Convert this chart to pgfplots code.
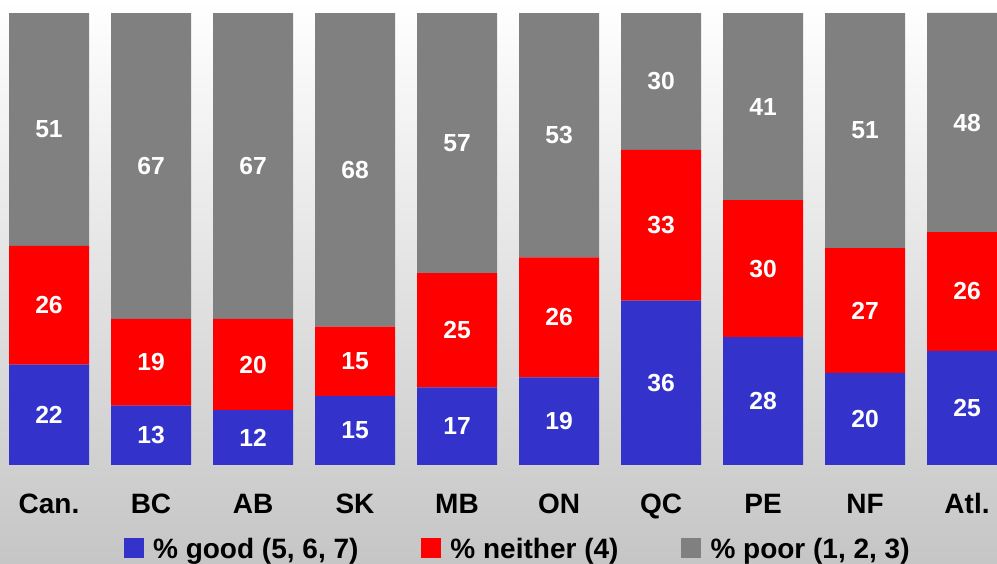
\documentclass[border=0pt]{standalone}
\usepackage{pgfplots}
\pgfplotsset{compat=1.18}
\usepackage{pgfplotstable}
\usepackage{fontspec}
\setmainfont{Liberation Sans}
\definecolor{cblue}{HTML}{3333CC}
\definecolor{cred}{HTML}{FF0000}
\definecolor{cgray}{HTML}{808080}
\pgfplotstableread{
x good neither poor
0 22 26 51
1 13 19 67
2 12 20 67
3 15 15 68
4 17 25 57
5 19 26 53
6 36 33 30
7 28 30 41
8 20 27 51
9 25 26 48
}\data
\begin{document}
\begin{tikzpicture}
\path[use as bounding box] (0,0) rectangle (747.75pt,423pt);
\shade[top color=white, bottom color=gray!45] (0,0) rectangle (747.75pt,423pt);
\begin{axis}[
  at={(0,74.25pt)}, anchor=south west,
  scale only axis, width=747.75pt, height=339pt,
  ybar stacked, bar width=60pt,
  xmin=-0.4804, xmax=9.294, ymin=0, ymax=100,
  axis line style={draw=none}, tick style={draw=none},
  ytick=\empty,
  xtick={0,...,9},
  xticklabels={Can.,BC,AB,SK,MB,ON,QC,PE,NF,Atl.},
  xticklabel style={anchor=base, yshift=-36.75pt, font=\fontsize{21}{25}\selectfont\bfseries},
  /pgf/number format/assume math mode=true,
  point meta=explicit,
  nodes near coords={\pgfmathprintnumber{\pgfplotspointmeta}},
  every node near coord/.style={font=\fontsize{18.5}{22}\selectfont\bfseries, text=white, anchor=center},
  legend columns=3,
  legend style={draw=none, fill=none, at={(0.5196,-0.1858)}, anchor=center,
    font=\fontsize{21}{25}\selectfont\bfseries, inner sep=0pt,
    /tikz/every even column/.append style={column sep=45pt},
    /tikz/every odd column/.append style={column sep=5pt}},
  legend image code/.code={\fill[#1] (0pt,-6.5pt) rectangle (15pt,8.5pt);},
]
\addplot[fill=cblue, draw=none]
  table[x=x, y expr=100*\thisrow{good}/(\thisrow{good}+\thisrow{neither}+\thisrow{poor}), meta=good] {\data};
\addlegendentry{\% good (5, 6, 7)}
\addplot[fill=cred, draw=none]
  table[x=x, y expr=100*\thisrow{neither}/(\thisrow{good}+\thisrow{neither}+\thisrow{poor}), meta=neither] {\data};
\addlegendentry{\% neither (4)}
\addplot[fill=cgray, draw=none]
  table[x=x, y expr=100*\thisrow{poor}/(\thisrow{good}+\thisrow{neither}+\thisrow{poor}), meta=poor] {\data};
\addlegendentry{\% poor (1, 2, 3)}
\end{axis}
\end{tikzpicture}
\end{document}
